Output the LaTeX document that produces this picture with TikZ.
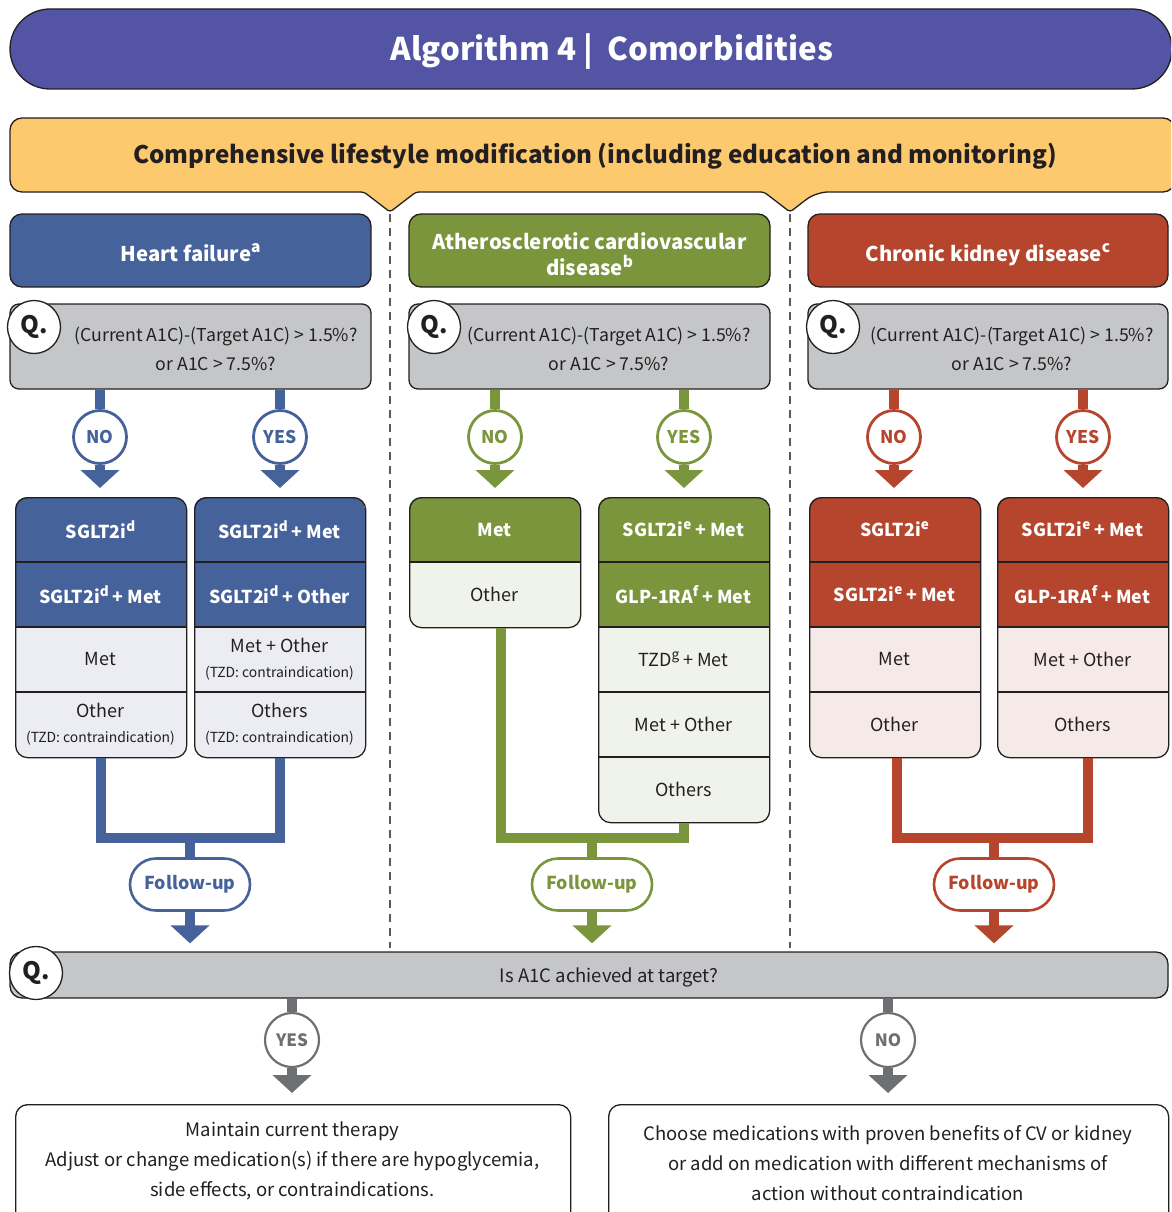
\documentclass[tikz,border=0pt]{standalone}
\usepackage{fontspec}
\setmainfont{Noto Sans CJK KR}
\usetikzlibrary{arrows.meta,shapes.misc,calc}
\definecolor{hdr}{HTML}{5355A4}
\definecolor{orng}{HTML}{FDC96F}
\definecolor{hfD}{HTML}{46629B}
\definecolor{hfLt}{HTML}{ECEDF3}
\definecolor{cvD}{HTML}{7A953C}
\definecolor{cvLt}{HTML}{F0F3EA}
\definecolor{ckD}{HTML}{B6452E}
\definecolor{ckLt}{HTML}{F6EAE8}
\definecolor{qgray}{HTML}{C5C6C8}
\definecolor{agray}{HTML}{6E6F72}
\definecolor{ink}{HTML}{231F20}
\tikzset{
 outl/.style={draw=ink, line width=1.3pt},
 qbox/.style={outl, fill=qgray, rounded corners=9pt, minimum width=361pt, minimum height=85pt, inner sep=0pt},
 qcirc/.style={circle, outl, fill=white, minimum size=53pt, inner sep=0pt, text=ink, font=\fontsize{24}{28}\selectfont\bfseries},
 qtext/.style={align=center, text=ink, font=\fontsize{17.7}{29}\selectfont, inner sep=0pt},
 ynnode/.style={circle, draw=#1, line width=2.8pt, fill=white, text=#1, minimum size=53pt, inner sep=0pt, font=\fontsize{17.5}{21}\selectfont\bfseries},
 trunk/.style={draw=#1, line width=10pt},
 headtip/.style={-{Triangle[width=38pt,length=18pt]}},
 fubox/.style={rounded rectangle, draw=#1, line width=2.6pt, fill=white, text=#1, minimum width=120pt, minimum height=52pt, inner sep=0pt, font=\fontsize{17.8}{22}\selectfont\bfseries},
 rowD/.style={text=white, font=\fontsize{17.8}{22}\selectfont\bfseries, inner sep=0pt},
 rowL/.style={text=ink, font=\fontsize{18}{25}\selectfont, align=center, inner sep=0pt},
 colhead/.style={rounded corners=12pt, outl, fill=#1, minimum width=361pt, minimum height=73pt, inner sep=0pt},
 headtxt/.style={text=white, font=\fontsize{20.3}{26}\selectfont\bfseries, align=center, inner sep=0pt},
 btext/.style={align=center, text=ink, font=\fontsize{18.5}{30}\selectfont, inner sep=0pt},
}
\newcommand{\smalltzd}{{\fontsize{13.9}{19}\selectfont (TZD: contraindication)}}
\newcommand{\sups}[1]{\raisebox{0.4em}{\scalebox{0.76}{#1}}}
\newcommand{\medbox}[8]{%
 \begin{scope}
 \clip[rounded corners=12pt] (#2,#3) rectangle ({#2+171},{#3+65*#5});
 \fill[#6] (#2,#3) rectangle ({#2+171},{#3+65*#4});
 \fill[#7] (#2,{#3+65*#4}) rectangle ({#2+171},{#3+65*#5});
 \foreach \i in {1,...,#8} \draw[ink, line width=1.3pt] (#2,{#3+65*\i}) -- ++(171,0);
 \end{scope}
 \node[outl, rounded corners=12pt, minimum width=171pt, minimum height={65*#5}, anchor=north west, inner sep=0pt] (#1) at (#2,#3) {};
}
\begin{document}
\begin{tikzpicture}[x=1pt,y=-1pt]
\useasboundingbox (0,0) rectangle (1171,1212);
\clip (0,0) rectangle (1171,1212);

% title
\node[outl, fill=hdr, rounded rectangle, minimum width=1162pt, minimum height=80pt, inner sep=0pt] (title) at (591,49) {};
\node[text=white, font=\fontsize{31.3}{38}\selectfont\bfseries, inner sep=0pt] (titletext) at (612,52) {Algorithm 4 |\hspace{14pt}Comorbidities};

% banner
\draw[outl, fill=orng, rounded corners=12pt] (10,150) |- (1175,118) |- (816,192) [rounded corners=3pt] -- (790,212) -- (764,192) -- (416,192) -- (390,212) -- (364,192) [rounded corners=12pt] -| (10,150) -- cycle;
\node[text=ink, font=\fontsize{24.2}{30}\selectfont\bfseries, inner sep=0pt] (banner) at (595,156) {Comprehensive lifestyle modification (including education and monitoring)};

% separators
\draw[draw=ink!75, line width=1.8pt, dash pattern=on 8pt off 6pt] (390,214) -- (390,948);
\draw[draw=ink!75, line width=1.8pt, dash pattern=on 8pt off 6pt] (790,214) -- (790,948);

% column heads
\node[colhead=hfD] (hhf) at (190.5,250.5) {};
\node[colhead=cvD] (hcv) at (589.5,250.5) {};
\node[colhead=ckD, minimum width=360pt] (hck) at (988,250.5) {};
\node[headtxt, anchor=base] (hhft) at (190.5,261) {Heart failure\sups{a}};
\node[headtxt] (hcvt) at (589.5,254) {Atherosclerotic cardiovascular\\disease\sups{b}};
\node[headtxt, anchor=base] (hckt) at (988,261) {Chronic kidney disease\sups{c}};

% question boxes
\node[qbox] (qhf) at (190.5,346.5) {};
\node[qbox] (qcv) at (589.5,346.5) {};
\node[qbox, minimum width=360pt] (qck) at (988,346.5) {};
\node[qcirc] (qchf) at (34,327) {Q.};
\node[qcirc] (qccv) at (434,327) {Q.};
\node[qcirc] (qcck) at (833,327) {Q.};
\node[qtext] (qthf) at (216,349) {(Current A1C)-(Target A1C) > 1.5\%?\\or A1C > 7.5\%?};
\node[qtext] (qtcv) at (609,349) {(Current A1C)-(Target A1C) > 1.5\%?\\or A1C > 7.5\%?};
\node[qtext] (qtck) at (1012,349) {(Current A1C)-(Target A1C) > 1.5\%?\\or A1C > 7.5\%?};

% yes/no
\node[ynnode=hfD] (hfno) at (100,437) {NO};
\node[ynnode=hfD] (hfyes) at (280,437) {YES};
\node[ynnode=cvD] (cvno) at (495,437) {NO};
\node[ynnode=cvD] (cvyes) at (684,437) {YES};
\node[ynnode=ckD] (ckno) at (894,437) {NO};
\node[ynnode=ckD] (ckyes) at (1083,437) {YES};

% boxes
\medbox{hfL}{15}{497}{2}{4}{hfD}{hfLt}{3}
\medbox{hfR}{194}{497}{2}{4}{hfD}{hfLt}{3}
\medbox{cvL}{409}{497}{1}{2}{cvD}{cvLt}{1}
\medbox{cvR}{598}{497}{2}{5}{cvD}{cvLt}{4}
\medbox{ckL}{809}{497}{2}{4}{ckD}{ckLt}{3}
\medbox{ckR}{997}{497}{2}{4}{ckD}{ckLt}{3}

% row texts
\node[rowD] (hfL1) at (100.5,529.5) {SGLT2i\sups{d}};
\node[rowD] (hfL2) at (100.5,594.5) {SGLT2i\sups{d} + Met};
\node[rowL] (hfL3) at (100.5,659.5) {Met};
\node[rowL] (hfL4) at (100.5,724.5) {Other\\\smalltzd};
\node[rowD] (hfR1) at (279.5,529.5) {SGLT2i\sups{d} + Met};
\node[rowD] (hfR2) at (279.5,594.5) {SGLT2i\sups{d} + Other};
\node[rowL] (hfR3) at (279.5,659.5) {Met + Other\\\smalltzd};
\node[rowL] (hfR4) at (279.5,724.5) {Others\\\smalltzd};

\node[rowD] (cvL1) at (494.5,529.5) {Met};
\node[rowL] (cvL2) at (494.5,594.5) {Other};
\node[rowD] (cvR1) at (683.5,529.5) {SGLT2i\sups{e} + Met};
\node[rowD] (cvR2) at (683.5,594.5) {GLP-1RA\sups{f} + Met};
\node[rowL] (cvR3) at (683.5,659.5) {TZD\sups{g} + Met};
\node[rowL] (cvR4) at (683.5,724.5) {Met + Other};
\node[rowL] (cvR5) at (683.5,789.5) {Others};

\node[rowD] (ckL1) at (894.5,529.5) {SGLT2i\sups{e}};
\node[rowD] (ckL2) at (894.5,594.5) {SGLT2i\sups{e} + Met};
\node[rowL] (ckL3) at (894.5,659.5) {Met};
\node[rowL] (ckL4) at (894.5,724.5) {Other};
\node[rowD] (ckR1) at (1082.5,529.5) {SGLT2i\sups{e} + Met};
\node[rowD] (ckR2) at (1082.5,594.5) {GLP-1RA\sups{f} + Met};
\node[rowL] (ckR3) at (1082.5,659.5) {Met + Other};
\node[rowL] (ckR4) at (1082.5,724.5) {Others};

% bottom question bar
\node[outl, fill=qgray, rounded corners=12pt, minimum width=1158pt, minimum height=46pt, inner sep=0pt] (bq) at (589,975) {};
\node[qcirc] (bqc) at (36,973) {Q.};
\node[text=ink, font=\fontsize{18.5}{24}\selectfont, inner sep=0pt] (bqt) at (609,977) {Is A1C achieved at target?};

% follow-up
\node[fubox=hfD] (fuhf) at (190,884.5) {Follow-up};
\node[fubox=cvD] (fucv) at (592,884.5) {Follow-up};
\node[fubox=ckD] (fuck) at (994,884.5) {Follow-up};
\coordinate (hfj) at (190,838);
\coordinate (cvj) at (592,838);
\coordinate (ckj) at (994,838);

% connectors heart failure
\draw[trunk=hfD] (qhf.south -| hfno) -- (hfno.north);
\draw[trunk=hfD] (qhf.south -| hfyes) -- (hfyes.north);
\draw[trunk=hfD, headtip, shorten >=9pt] (hfno.south) -- (hfno.south |- hfL.north);
\draw[trunk=hfD, headtip, shorten >=9pt] (hfyes.south) -- (hfyes.south |- hfR.north);
\draw[trunk=hfD, line join=miter] (hfL.south) |- (hfj) -| (hfR.south);
\draw[trunk=hfD] (hfj) -- (fuhf.north);
\draw[trunk=hfD, headtip, shorten >=8pt] (fuhf.south) -- (fuhf.south |- bq.north);

% connectors ASCVD
\draw[trunk=cvD] (qcv.south -| cvno) -- (cvno.north);
\draw[trunk=cvD] (qcv.south -| cvyes) -- (cvyes.north);
\draw[trunk=cvD, headtip, shorten >=9pt] (cvno.south) -- (cvno.south |- cvL.north);
\draw[trunk=cvD, headtip, shorten >=9pt] (cvyes.south) -- (cvyes.south |- cvR.north);
\draw[trunk=cvD, line join=miter] ($(cvL.south)+(6,0)$) |- (cvj) -| (cvR.south);
\draw[trunk=cvD] (cvj) -- (fucv.north);
\draw[trunk=cvD, headtip, shorten >=8pt] (fucv.south) -- (fucv.south |- bq.north);

% connectors CKD
\draw[trunk=ckD] (qck.south -| ckno) -- (ckno.north);
\draw[trunk=ckD] (qck.south -| ckyes) -- (ckyes.north);
\draw[trunk=ckD, headtip, shorten >=9pt] (ckno.south) -- (ckno.south |- ckL.north);
\draw[trunk=ckD, headtip, shorten >=9pt] (ckyes.south) -- (ckyes.south |- ckR.north);
\draw[trunk=ckD, line join=miter] ($(ckL.south)+(2,0)$) |- (ckj) -| ($(ckR.south)+(5,0)$);
\draw[trunk=ckD] (ckj) -- (fuck.north);
\draw[trunk=ckD, headtip, shorten >=8pt] (fuck.south) -- (fuck.south |- bq.north);

% bottom outcomes
\node[ynnode=agray, line width=2.2pt, minimum size=54pt, font=\fontsize{17}{21}\selectfont\bfseries] (byes) at (292,1040) {YES};
\node[ynnode=agray, line width=2.2pt, minimum size=54pt, font=\fontsize{17}{21}\selectfont\bfseries] (bno) at (888,1040) {NO};
\node[outl, fill=white, rounded corners=12pt, minimum width=555pt, minimum height=130pt, anchor=north west, inner sep=0pt] (lbox) at (15,1104) {};
\node[outl, fill=white, rounded corners=12pt, minimum width=560pt, minimum height=130pt, anchor=north west, inner sep=0pt] (rbox) at (608,1104) {};
\node[btext] (ltext) at (292.5,1161) {Maintain current therapy\\Adjust or change medication(s) if there are hypoglycemia,\\side effects, or contraindications.};
\node[btext] (rtext) at (888,1163) {Choose medications with proven benefits of CV or kidney\\or add on medication with different mechanisms of\\action without contraindication};
\draw[trunk=agray] (bq.south -| byes) -- (byes.north);
\draw[trunk=agray] (bq.south -| bno) -- (bno.north);
\draw[trunk=agray, headtip, shorten >=11pt] (byes.south) -- (byes.south |- lbox.north);
\draw[trunk=agray, headtip, shorten >=11pt] (bno.south) -- (bno.south |- rbox.north);
\end{tikzpicture}
\end{document}
